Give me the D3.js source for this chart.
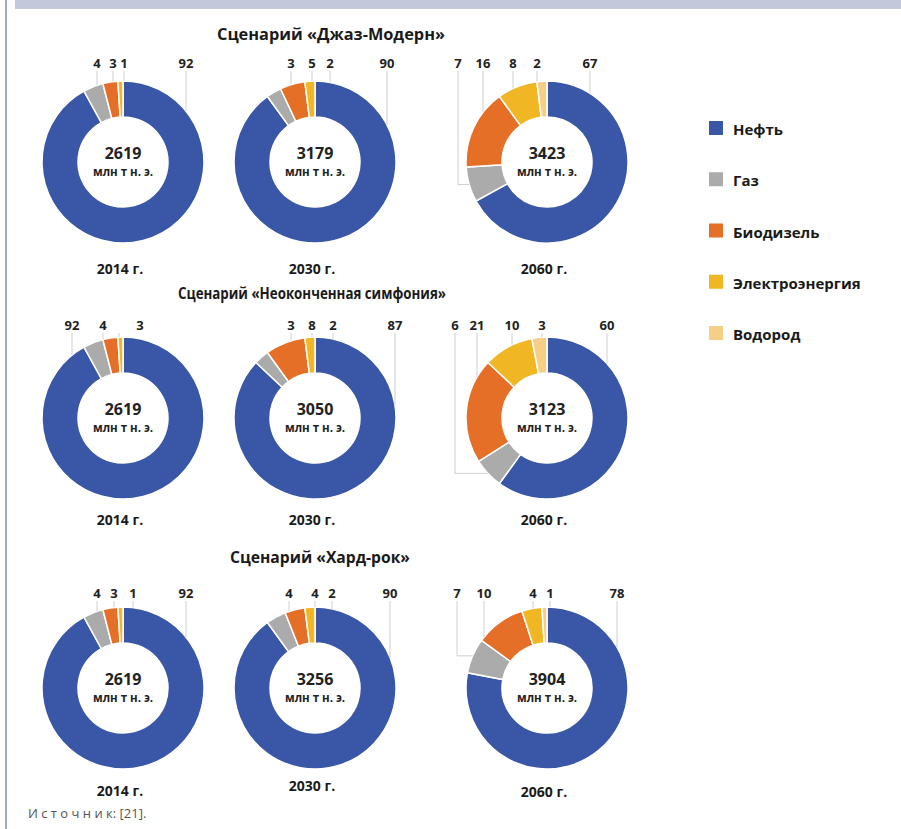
<!DOCTYPE html>
<html>
<head>
<meta charset="utf-8">
<script src="https://cdn.jsdelivr.net/npm/d3@7"></script>
<style>
  html, body { margin: 0; padding: 0; background: #fff; }
  svg { display: block; }
  text { font-family: "Open Sans", "Noto Sans", sans-serif; }
</style>
</head>
<body>
<script>
// --- data ---
const categories = ["Нефть", "Газ", "Биодизель", "Электроэнергия", "Водород"];
const scenarios = ["Сценарий «Джаз-Модерн»", "Сценарий «Неоконченная симфония»", "Сценарий «Хард-рок»"];
const years = ["2014 г.", "2030 г.", "2060 г."];
const unit = "млн т н. э.";
const source = "И с т о ч н и к: [21].";

// totals, млн т н. э.
const jazzTotals = [2619, 3179, 3423];
const symphonyTotals = [2619, 3050, 3123];
const hardRockTotals = [2619, 3256, 3904];

// shares, % (order: Нефть, Газ, Биодизель, Электроэнергия, Водород)
const jazzShares = [[92, 4, 3, 1, 0], [90, 3, 5, 2, 0], [67, 7, 16, 8, 2]];
const symphonyShares = [[92, 4, 3, 1, 0], [87, 3, 8, 2, 0], [60, 6, 21, 10, 3]];
const hardRockShares = [[92, 4, 3, 1, 0], [90, 4, 4, 2, 0], [78, 7, 10, 4, 1]];

const colors = ["#3957a6", "#ababab", "#e66f28", "#f1b623", "#f5cf88"];

// --- layout ---
const W = 901, H = 829;
const svg = d3.select("body").append("svg").attr("width", W).attr("height", H);

svg.append("rect").attr("x", 15).attr("y", 0).attr("width", W - 15).attr("height", 9).attr("fill", "#c3c9da");
svg.append("rect").attr("x", 5).attr("y", 0).attr("width", 2).attr("height", H).attr("fill", "#9eabc8");

const colX = [123, 315, 547];
const rows = [
    { title: scenarios[0], titleX: 331, titleW: 228, titleY: 34, labelY: 63, cy: 162, yearY: [268, 268, 268], totals: jazzTotals, shares: jazzShares },
    { title: scenarios[1], titleX: 312, titleW: 268, titleY: 293, labelY: 325, cy: 418, yearY: [519, 519, 519], totals: symphonyTotals, shares: symphonyShares },
    { title: scenarios[2], titleX: 320, titleW: 180, titleY: 557, labelY: 593, cy: 688, yearY: [790, 785, 791], totals: hardRockTotals, shares: hardRockShares }
];

// label placement per chart: category index, label offset, optional line offset, elbow flag
const labelSpots = [
    [
        [{ i: 1, dx: -26 }, { i: 2, dx: -10 }, { i: 3, dx: 1 }, { i: 0, dx: 63 }],
        [{ i: 1, dx: -24 }, { i: 2, dx: -3 }, { i: 3, dx: 15 }, { i: 0, dx: 72 }],
        [{ i: 1, dx: -89, elbow: true }, { i: 2, dx: -64 }, { i: 3, dx: -34 }, { i: 4, dx: -10 }, { i: 0, dx: 43 }]
    ],
    [
        [{ i: 0, dx: -51 }, { i: 1, dx: -20 }, { i: 2, dx: 17, lx: -4 }],
        [{ i: 1, dx: -24 }, { i: 2, dx: -3 }, { i: 3, dx: 18 }, { i: 0, dx: 80 }],
        [{ i: 1, dx: -92, elbow: true }, { i: 2, dx: -70 }, { i: 3, dx: -35 }, { i: 4, dx: -5 }, { i: 0, dx: 60 }]
    ],
    [
        [{ i: 1, dx: -26 }, { i: 2, dx: -9 }, { i: 3, dx: 10 }, { i: 0, dx: 63 }],
        [{ i: 1, dx: -26 }, { i: 2, dx: 0 }, { i: 3, dx: 17 }, { i: 0, dx: 75 }],
        [{ i: 1, dx: -90, elbow: true }, { i: 2, dx: -63 }, { i: 3, dx: -14 }, { i: 4, dx: 3 }, { i: 0, dx: 70 }]
    ]
];

const rOuter = 81, rInner = 45;

const pie = d3.pie().sort(null).value(d => d);
const arc = d3.arc().innerRadius(rInner).outerRadius(rOuter);

rows.forEach((row, ri) => {
    svg.append("text")
        .attr("x", row.titleX).attr("y", row.titleY)
        .attr("text-anchor", "middle").attr("dominant-baseline", "central")
        .attr("font-size", 16).attr("font-weight", 700).attr("fill", "#1a1a1a")
        .attr("textLength", row.titleW).attr("lengthAdjust", "spacingAndGlyphs")
        .text(row.title);

    row.shares.forEach((shares, ci) => {
        const cx = colX[ci], cy = row.cy;
        const g = svg.append("g").attr("transform", `translate(${cx},${cy})`);
        const arcs = pie(shares);

        g.selectAll("path.slice")
            .data(arcs.filter(d => d.data > 0))
            .join("path")
            .attr("class", "slice")
            .attr("d", arc)
            .attr("fill", d => colors[d.index])
            .attr("stroke", "#fff")
            .attr("stroke-width", 1.5);

        g.append("text")
            .attr("y", -9).attr("text-anchor", "middle").attr("dominant-baseline", "central")
            .attr("font-size", 16).attr("font-weight", 700).attr("fill", "#222")
            .text(row.totals[ci]);
        g.append("text")
            .attr("y", 9).attr("text-anchor", "middle").attr("dominant-baseline", "central")
            .attr("font-size", 11.5).attr("font-weight", 700).attr("fill", "#222")
            .text(unit);

        // leader lines and value labels
        labelSpots[ri][ci].forEach(s => {
            const a = arcs[s.i];
            const mid = (a.startAngle + a.endAngle) / 2;
            const lineX = (s.lx !== undefined ? s.lx : s.dx);
            const top = row.labelY - cy + 8;
            let p;
            if (s.elbow) {
                const ax = rOuter * Math.sin(mid), ay = -rOuter * Math.cos(mid);
                p = `M${lineX},${top}V${ay}H${ax}`;
            } else {
                const yEdge = -Math.sqrt(Math.max(0, rOuter * rOuter - lineX * lineX));
                p = `M${lineX},${top}V${yEdge}`;
            }
            g.append("path").attr("d", p).attr("fill", "none")
                .attr("stroke", "#cfcfcf").attr("stroke-width", 1);
            g.append("text")
                .attr("x", s.dx).attr("y", row.labelY - cy)
                .attr("text-anchor", "middle").attr("dominant-baseline", "central")
                .attr("font-size", 13).attr("font-weight", 700).attr("fill", "#222")
                .text(shares[s.i]);
        });

        svg.append("text")
            .attr("x", cx - 3).attr("y", row.yearY[ci])
            .attr("text-anchor", "middle").attr("dominant-baseline", "central")
            .attr("font-size", 14).attr("font-weight", 700).attr("fill", "#1a1a1a")
            .text(years[ci]);
    });
});

// legend
const legend = svg.append("g").attr("transform", "translate(709,128)");
const ly = d3.scalePoint().domain(categories).range([0, 205]);
categories.forEach((c, i) => {
    legend.append("rect").attr("x", 0).attr("y", ly(c) - 7).attr("width", 14).attr("height", 14)
        .attr("fill", colors[i]);
    legend.append("text").attr("x", 24).attr("y", ly(c) + 1)
        .attr("dominant-baseline", "central")
        .attr("font-size", 15).attr("font-weight", 700).attr("fill", "#1a1a1a")
        .text(c);
});

svg.append("text").attr("x", 28).attr("y", 813)
    .attr("dominant-baseline", "central")
    .attr("font-size", 13).attr("fill", "#555")
    .text(source);
</script>
</body>
</html>
